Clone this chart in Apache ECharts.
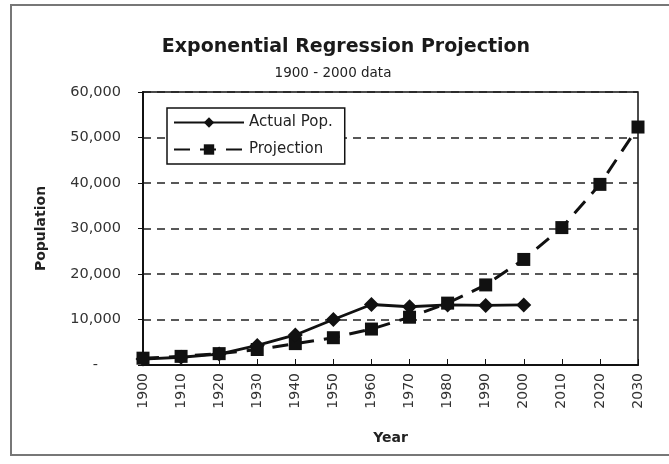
<!DOCTYPE html>
<html>
<head>
<meta charset="utf-8">
<script src="https://cdn.jsdelivr.net/npm/echarts@6/dist/echarts.min.js"></script>
<style>
  html, body { margin: 0; padding: 0; background: #fff; }
  #chart { width: 669px; height: 464px; }
</style>
</head>
<body>
<div id="chart"></div>
<script>
// Decades on the category axis
const years = ['1900', '1910', '1920', '1930', '1940', '1950', '1960',
               '1970', '1980', '1990', '2000', '2010', '2020', '2030'];

// Recorded population, 1900 - 2000
const actualPop = [1300, 1700, 2400, 4300, 6600, 10000, 13300,
                   12800, 13200, 13100, 13200];

// Exponential regression fit, projected to 2030
const projection = [1500, 1900, 2500, 3400, 4700, 6000, 7900,
                    10500, 13600, 17600, 23200, 30200, 39700, 52300];

// Value axis ticks
const yTicks = [0, 10000, 20000, 30000, 40000, 50000, 60000];

const FONT = '"DejaVu Sans", "Liberation Sans", Arial, sans-serif';

function fmtThousands(v) {
  if (v === 0) return '-     ';
  return String(v).replace(/\B(?=(\d{3})+(?!\d))/g, ',');
}

const chart = echarts.init(document.getElementById('chart'), null, { renderer: 'canvas' });

chart.setOption({
  backgroundColor: '#ffffff',
  animation: false,
  graphic: [{
    type: 'rect',
    silent: true,
    shape: { x: 11, y: 5, width: 700, height: 450 },
    style: { fill: 'none', stroke: '#777', lineWidth: 2 }
  }],
  title: [{
    text: 'Exponential Regression Projection',
    left: 341, top: 33, textAlign: 'center',
    textStyle: { fontFamily: FONT, fontWeight: 'bold', fontSize: 19, color: '#1a1a1a' }
  }, {
    text: '1900 - 2000 data',
    left: 328, top: 61, textAlign: 'center',
    textStyle: { fontFamily: FONT, fontWeight: 'normal', fontSize: 13.5, color: '#222' }
  }],
  legend: {
    orient: 'vertical',
    left: 167, top: 108,
    padding: [7, 12, 7, 6],
    itemGap: 12,
    itemWidth: 70, itemHeight: 13,
    backgroundColor: '#fff',
    borderColor: '#111', borderWidth: 1.5,
    textStyle: { fontFamily: FONT, fontSize: 15, color: '#222' },
    data: ['Actual Pop.', 'Projection']
  },
  grid: {
    left: 143, right: 31, top: 92, bottom: 99,
    show: true, borderColor: '#111', borderWidth: 1.5,
    containLabel: false
  },
  xAxis: {
    type: 'category',
    data: years,
    boundaryGap: false,
    name: 'Year',
    nameLocation: 'middle',
    nameGap: 66,
    nameTextStyle: { fontFamily: FONT, fontWeight: 'bold', fontSize: 14, color: '#222' },
    axisLine: { lineStyle: { color: '#111', width: 2 } },
    axisTick: { inside: true, length: 6, lineStyle: { color: '#111', width: 1 } },
    axisLabel: { rotate: 90, margin: 8, fontFamily: FONT, fontSize: 14, color: '#333' },
    splitLine: { show: false }
  },
  yAxis: {
    type: 'value',
    min: yTicks[0], max: yTicks[yTicks.length - 1], interval: 10000,
    name: 'Population',
    nameLocation: 'middle',
    nameGap: 95,
    nameRotate: 90,
    nameTextStyle: { fontFamily: FONT, fontWeight: 'bold', fontSize: 14, color: '#222' },
    axisLine: { show: true, lineStyle: { color: '#111', width: 2 } },
    axisTick: { show: true, length: 5, lineStyle: { color: '#111', width: 1 } },
    axisLabel: { margin: 22, fontFamily: FONT, fontSize: 14.5, color: '#333', formatter: fmtThousands },
    splitLine: { show: true, lineStyle: { color: '#222', width: 1.5, type: [8, 6] } }
  },
  series: [{
    name: 'Actual Pop.',
    type: 'line',
    data: actualPop,
    symbol: 'diamond',
    symbolSize: 15,
    itemStyle: { color: '#111' },
    lineStyle: { color: '#111', width: 2.8 },
    z: 3
  }, {
    name: 'Projection',
    type: 'line',
    data: projection,
    symbol: 'rect',
    symbolSize: 13,
    itemStyle: { color: '#111' },
    lineStyle: { color: '#111', width: 3, type: [16, 10] },
    z: 2
  }]
});
</script>
</body>
</html>
